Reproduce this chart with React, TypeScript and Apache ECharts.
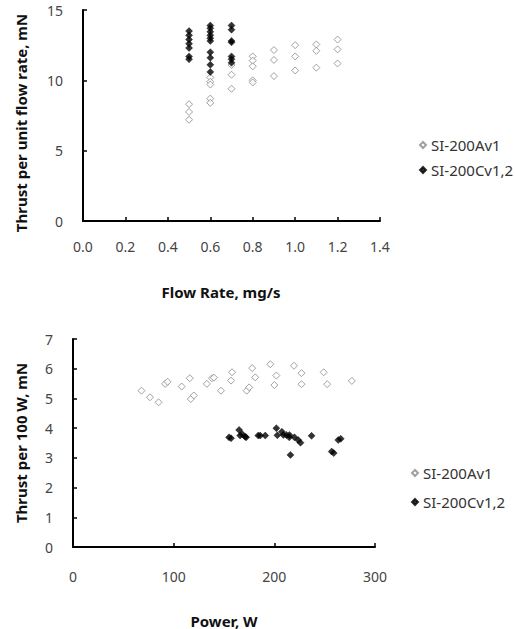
import React, { useEffect, useRef } from "react";
import * as echarts from "echarts";

const seriesNames = ["SI-200Av1", "SI-200Cv1,2"];

const topAv1: number[][] = [
  [0.5, 8.3], [0.5, 7.75], [0.5, 7.2],
  [0.6, 10.2], [0.6, 9.9], [0.6, 9.7], [0.6, 8.7], [0.6, 8.4],
  [0.7, 11.1], [0.7, 10.4], [0.7, 9.4],
  [0.8, 11.7], [0.8, 11.4], [0.8, 11.0], [0.8, 10.0], [0.8, 9.85],
  [0.9, 12.15], [0.9, 11.45], [0.9, 10.3],
  [1.0, 12.5], [1.0, 11.7], [1.0, 10.7],
  [1.1, 12.55], [1.1, 12.1], [1.1, 10.9],
  [1.2, 12.9], [1.2, 12.2], [1.2, 11.2],
];

const topCv12: number[][] = [
  [0.5, 13.5], [0.5, 13.2], [0.5, 12.9], [0.5, 12.6], [0.5, 12.3], [0.5, 11.7], [0.5, 11.5],
  [0.6, 13.9], [0.6, 13.7], [0.6, 13.45], [0.6, 13.2], [0.6, 13.0], [0.6, 12.8], [0.6, 12.0], [0.6, 11.6], [0.6, 11.1], [0.6, 10.6],
  [0.7, 13.9], [0.7, 13.6], [0.7, 12.8], [0.7, 12.7], [0.7, 11.7], [0.7, 11.5], [0.7, 11.25],
];

const bottomAv1: number[][] = [
  [68, 5.26], [76.5, 5.04], [85, 4.87], [91.5, 5.49], [94, 5.56], [108, 5.4],
  [116, 5.68], [117, 4.98], [120, 5.1], [133, 5.49], [138, 5.68], [140, 5.7],
  [147, 5.26], [158, 5.88], [157, 5.6], [172.5, 5.26], [175, 5.37], [178, 6.02],
  [181, 5.71], [196, 6.15], [202, 5.77], [200, 5.45], [219.5, 6.1], [227, 5.85],
  [227, 5.48], [249, 5.88], [252.5, 5.48], [277, 5.59],
];

const bottomCv12: number[][] = [
  [155, 3.69], [157, 3.66], [165, 3.94], [166, 3.75], [168, 3.8], [171, 3.71], [172, 3.69],
  [184, 3.75], [186, 3.75], [191, 3.75], [202, 4.0], [203, 3.76], [207.5, 3.88], [209, 3.77],
  [212, 3.77], [214.8, 3.69], [215, 3.77], [220, 3.69], [223.7, 3.6], [226, 3.51], [237, 3.74],
  [216, 3.1], [257, 3.21], [259, 3.16], [263.5, 3.6], [266, 3.64],
];

const topXTitle = "Flow Rate, mg/s";
const topYTitle = "Thrust per unit flow rate, mN";
const bottomXTitle = "Power, W";
const bottomYTitle = "Thrust per 100 W, mN";

const FONT = "'Noto Sans', 'DejaVu Sans', sans-serif";

export default function App() {
  const ref = useRef<HTMLDivElement>(null);
  useEffect(() => {
    if (!ref.current) return;
    const chart = echarts.init(ref.current, undefined, { renderer: "svg" });
    const axisLine = { show: true, onZero: false, lineStyle: { color: "#000", width: 2 } };
    const axisTick = { show: true, inside: true, length: 4, lineStyle: { color: "#000", width: 1.5 } };
    const axisLabel = (margin: number, fmt?: (v: number) => string) => ({
      color: "#444",
      fontSize: 14,
      fontFamily: FONT,
      margin,
      formatter: fmt,
    });
    const nameStyle = { color: "#111", fontSize: 15, fontWeight: "bold" as const, fontFamily: FONT };
    const openStyle = { color: "#fff", borderColor: "#8a8a8a", borderWidth: 1 };
    const fillStyle = { color: "#000", borderColor: "#000", borderWidth: 0.5 };
    const legendText = { color: "#333", fontSize: 15, lineHeight: 16, fontFamily: FONT };

    chart.setOption({
      animation: false,
      backgroundColor: "#fff",
      grid: [
        { left: 83, top: 10, width: 297, height: 211 },
        { left: 73, top: 339, width: 302, height: 208 },
      ],
      xAxis: [
        {
          gridIndex: 0, type: "value", min: 0, max: 1.4, interval: 0.2,
          axisLine, axisTick, splitLine: { show: false },
          axisLabel: axisLabel(18, (v: number) => v.toFixed(1)),
        },
        {
          gridIndex: 1, type: "value", min: 0, max: 300, interval: 100,
          axisLine, axisTick, splitLine: { show: false },
          axisLabel: axisLabel(22),
          name: bottomXTitle, nameLocation: "middle", nameGap: 66, nameTextStyle: nameStyle,
        },
      ],
      yAxis: [
        {
          gridIndex: 0, type: "value", min: 0, max: 15, interval: 5,
          axisLine, axisTick, splitLine: { show: false },
          axisLabel: axisLabel(20),
        },
        {
          gridIndex: 1, type: "value", min: 0, max: 7, interval: 1,
          axisLine, axisTick, splitLine: { show: false },
          axisLabel: axisLabel(20),
          name: bottomYTitle, nameLocation: "middle", nameGap: 45, nameTextStyle: nameStyle,
        },
      ],
      graphic: [
        {
          type: "text", x: 221, y: 292,
          style: { text: topXTitle, fill: "#111", font: `bold 15px ${FONT}`, align: "center", verticalAlign: "middle" },
        },
        {
          type: "text", x: 21, y: 123, rotation: Math.PI / 2,
          style: { text: topYTitle, fill: "#111", font: `bold 15px ${FONT}`, align: "center", verticalAlign: "middle" },
        },
      ],
      legend: [
        {
          data: seriesNames, orient: "vertical", left: 419, top: 137, itemGap: 9, padding: 0,
          itemWidth: 6, itemHeight: 6, icon: "diamond",
          textStyle: legendText,
        },
        {
          data: seriesNames, orient: "vertical", left: 411, top: 465, itemGap: 13, padding: 0,
          itemWidth: 6, itemHeight: 6, icon: "diamond",
          textStyle: legendText,
        },
      ],
      series: [
        {
          name: seriesNames[0], type: "scatter", xAxisIndex: 0, yAxisIndex: 0,
          symbol: "diamond", symbolSize: 7, itemStyle: openStyle, data: topAv1,
        },
        {
          name: seriesNames[1], type: "scatter", xAxisIndex: 0, yAxisIndex: 0,
          symbol: "diamond", symbolSize: 7, itemStyle: fillStyle, data: topCv12,
        },
        {
          name: seriesNames[0], type: "scatter", xAxisIndex: 1, yAxisIndex: 1,
          symbol: "diamond", symbolSize: 7, itemStyle: openStyle, data: bottomAv1,
        },
        {
          name: seriesNames[1], type: "scatter", xAxisIndex: 1, yAxisIndex: 1,
          symbol: "diamond", symbolSize: 7, itemStyle: fillStyle, data: bottomCv12,
        },
      ],
    });
    return () => chart.dispose();
  }, []);
  return (
    <div
      ref={ref}
      style={{ position: "absolute", left: 0, top: 0, width: 515, height: 629, background: "#fff" }}
    />
  );
}
